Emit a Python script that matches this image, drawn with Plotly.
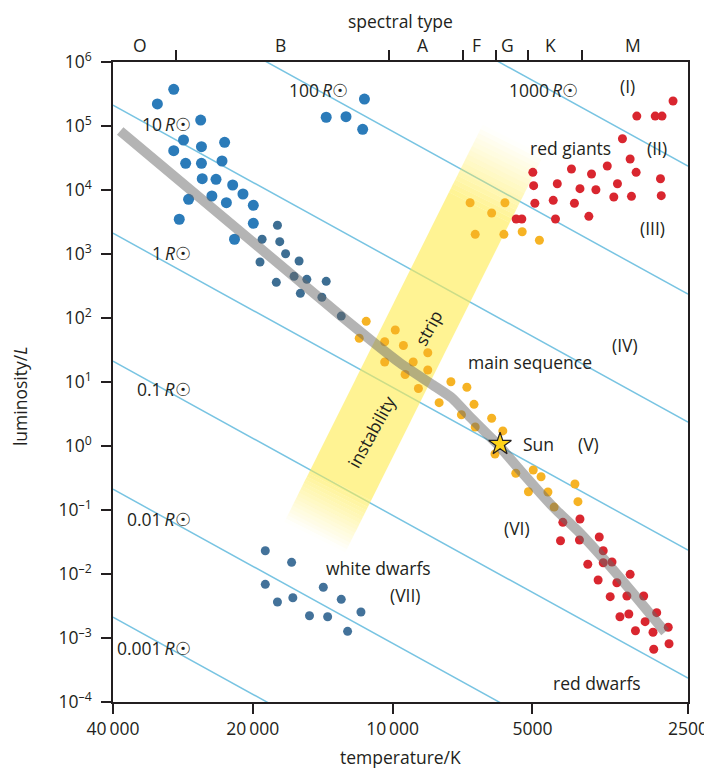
import numpy as np
import plotly.graph_objects as go

# ---------------- axis ranges ----------------
T_MAX, T_MIN = 40000, 2312          # temperature range shown (K), reversed axis
LOG_L_MIN, LOG_L_MAX = -4, 6        # luminosity range (log10 L/Lsun)
T_SUN = 5900                        # reference temperature for constant-radius lines

# ---------------- tick labels ----------------
x_tick_vals = [40000, 20000, 10000, 5000, 2312]
x_tick_text = ["40\u2009000", "20\u2009000", "10\u2009000", "5000", "2500"]
y_tick_exp = list(range(-4, 7))
y_tick_text = ["10<sup>" + (("\u2013" + str(-e)) if e < 0 else str(e)) + "</sup>" for e in y_tick_exp]

spectral_bounds = [29200, 10200, 7070, 6000, 5120, 3920]
spectral_letters = ["O", "B", "A", "F", "G", "K", "M"]
spectral_label_T = [35000, 17400, 8600, 6590, 5650, 4570, 3040]

# ---------------- star data (T in K, L in Lsun) ----------------
ob_T = [29600, 32100, 25900, 28200, 29600, 25800, 23000, 27900, 25800, 23300, 25700,
        24000, 22100, 24500, 22800, 21000, 19950, 27500, 28800, 19950, 21900]
ob_L = [374000, 221000, 124000, 60400, 41100, 47500, 55600, 26100, 26100, 28400, 15000,
        14700, 11970, 8060, 6330, 8660, 5770, 7160, 3490, 3020, 1700]

bsg_T = [13900, 12600, 11500, 11600]
bsg_L = [137000, 140000, 264000, 88600]

lateb_T = [17700, 19100, 17500, 17000, 15900, 19300, 16300, 15300, 13900, 17800, 15800, 14200, 12900]
lateb_L = [2810, 1700, 1560, 1010, 777, 750, 448, 402, 374, 361, 243, 211, 107]

afgk_T = [11400, 11800, 9870, 10400, 9480, 10400, 9030, 9400, 8800, 8400, 8400, 7490, 6920, 7940,
          6680, 7110, 6120, 6640, 5790, 6020, 4980, 5430, 4790, 5100, 4630, 4050, 3990, 4490]
afgk_L = [88.6, 48.2, 64.9, 42.6, 37.2, 20.5, 20.5, 13.1, 7.91, 28.7, 15.4, 10.1, 8.27, 4.75,
          4.48, 3.08, 2.71, 1.98, 1.72, 0.75, 0.422, 0.375, 0.331, 0.193, 0.191, 0.255, 0.135, 0.111]

ygiant_T = [6810, 5730, 6120, 6640, 5760, 5260, 4830]
ygiant_L = [6330, 6330, 4370, 2030, 2030, 2230, 1640]

rgiant_T = [2490, 2980, 2720, 2630, 3200, 3080, 2990, 2650, 2640, 3060, 3340, 3280, 3450, 3730,
            3650, 3950, 4120, 4420, 4510, 4060, 3780, 4460, 4990, 4970, 4940, 5420, 5270]
rgiant_L = [246000, 143000, 143000, 143000, 63300, 30500, 18900, 15000, 8150, 7970, 7770, 12500,
            23700, 17800, 10100, 10500, 21300, 12500, 6900, 6200, 3880, 3520, 18900, 11700, 6200,
            3520, 3520]

rdwarf_T = [3950, 4300, 3590, 4350, 3960, 3520, 3520, 3370, 3800, 3080, 3610, 3290, 3400, 3130,
            2880, 3240, 3100, 2700, 2860, 3000, 2750, 2550, 2740, 2540]
rdwarf_L = [0.0724, 0.0642, 0.0379, 0.0331, 0.0340, 0.0231, 0.0150, 0.0154, 0.0142, 0.00989,
            0.00806, 0.00731, 0.00442, 0.00453, 0.00453, 0.00215, 0.00237, 0.00249, 0.00180,
            0.00130, 0.00123, 0.00147, 0.000666, 0.000814]

wd_T = [18800, 16500, 18800, 14100, 17700, 16400, 12900, 11700, 15100, 13800, 12500]
wd_L = [0.0231, 0.0152, 0.0069, 0.0062, 0.00365, 0.00426, 0.00402, 0.00255, 0.00223, 0.00215, 0.00127]

# main-sequence ridge (grey band)
ms_T = [38600, 12900, 9640, 8190, 7450, 6810, 5870, 5320, 4510, 3950, 3450, 3040, 2590]
ms_L = [83500, 107, 19.8, 8.98, 5.62, 2.84, 0.965, 0.422, 0.111, 0.0437, 0.01485, 0.00505, 0.00124]

sun_T, sun_L = 5870, 1.07

# constant-radius lines
radii = [0.001, 0.01, 0.1, 1, 10, 100, 1000]
radius_labels = ["0.001", "0.01", "0.1", "1", "10", "100", "1000"]
radius_label_T = [26900, 26900, 26900, 26900, 26900, 12350, 3950]
radius_label_logL = [-3.156, -1.141, 0.891, 3.016, 5.031, 5.5625, 5.5625]

# instability strip corners (bottom-left, bottom-right, top-right, top-left)
strip_T = [17100, 12640, 4735, 6400]
strip_L = [0.0654, 0.0219, 34980, 104400]

# ---------------- styles ----------------
INK = "#231f20"
C_OB = "#2b7bb9"
C_LATEB = "#3d6e93"
C_WD = "#43729a"
C_ORANGE = "#f6b324"
C_RED = "#d9262f"
C_RLINE = "#78c4e2"
FONT = "Open Sans"
FS = 17.5

fig = go.Figure()

# radius lines
for R in radii:
    Ts = np.array([T_MAX, T_MIN], dtype=float)
    Ls = R**2 * (Ts / T_SUN) ** 4
    fig.add_trace(go.Scatter(x=Ts, y=Ls, mode="lines",
                             line=dict(color=C_RLINE, width=1.5), hoverinfo="skip"))

# instability strip (faded ends) built from slices in log space
lt = np.log10(strip_T)
ll = np.log10(strip_L)
bl = np.array([lt[0], ll[0]]); br = np.array([lt[1], ll[1]])
tr = np.array([lt[2], ll[2]]); tl = np.array([lt[3], ll[3]])
FADE_B, FADE_T, AMAX = 0.13, 0.17, 0.62
STRIP_RGB = (255, 236, 80)


def strip_poly(s0, s1):
    l0 = bl + (tl - bl) * s0
    r0 = br + (tr - br) * s0
    l1 = bl + (tl - bl) * s1
    r1 = br + (tr - br) * s1
    pts = np.array([l0, r0, r1, l1, l0])
    return 10 ** pts[:, 0], 10 ** pts[:, 1]


def add_strip_piece(s0, s1, a):
    xs, ys = strip_poly(s0, s1)
    fig.add_trace(go.Scatter(x=xs, y=ys, mode="lines", fill="toself",
                             line=dict(width=0, color="rgba(0,0,0,0)"),
                             fillcolor="rgba(%d,%d,%d,%.3f)" % (*STRIP_RGB, a),
                             hoverinfo="skip"))


NSL = 16
for i in range(NSL):
    s0 = FADE_B * i / NSL
    s1 = FADE_B * (i + 1) / NSL
    add_strip_piece(s0, s1, AMAX * (i + 0.5) / NSL)
add_strip_piece(FADE_B, 1 - FADE_T, AMAX)
for i in range(NSL):
    s0 = 1 - FADE_T + FADE_T * i / NSL
    s1 = 1 - FADE_T + FADE_T * (i + 1) / NSL
    add_strip_piece(s0, s1, AMAX * (1 - (i + 0.5) / NSL))


def dots(T, L, color, size):
    fig.add_trace(go.Scatter(x=T, y=L, mode="markers",
                             marker=dict(color=color, size=size, line=dict(width=0)),
                             hoverinfo="skip"))


dots(ob_T, ob_L, C_OB, 11)
dots(bsg_T, bsg_L, C_OB, 11)
dots(lateb_T, lateb_L, C_LATEB, 9)
dots(wd_T, wd_L, C_WD, 9)
dots(afgk_T, afgk_L, C_ORANGE, 9)
dots(ygiant_T, ygiant_L, C_ORANGE, 9)
dots(rgiant_T, rgiant_L, C_RED, 9)
dots(rdwarf_T, rdwarf_L, C_RED, 9)

# grey main-sequence band
fig.add_trace(go.Scatter(x=ms_T, y=ms_L, mode="lines",
                         line=dict(color="rgba(105,105,105,0.5)", width=10, shape="spline", smoothing=0.5),
                         hoverinfo="skip"))

# Sun
fig.add_trace(go.Scatter(x=[sun_T], y=[sun_L], mode="markers",
                         marker=dict(symbol="star", size=17, color="#ffd319",
                                     line=dict(color=INK, width=1.2)),
                         hoverinfo="skip"))

# dummy trace for top axis
fig.add_trace(go.Scatter(x=[10000], y=[1], xaxis="x2", mode="markers",
                         marker=dict(opacity=0), hoverinfo="skip"))

ann = []


def text(T, logL, s, xanchor="center", angle=0, size=FS):
    ann.append(dict(x=np.log10(T), y=logL, xref="x", yref="y", text=s, showarrow=False,
                    xanchor=xanchor, yanchor="middle", textangle=angle,
                    font=dict(family=FONT, size=size, color=INK)))


for lab, T, lL in zip(radius_labels, radius_label_T, radius_label_logL):
    text(T, lL, lab + "\u2009<i>R</i>\u2609", xanchor="right")

text(3128, 5.625, "(I)")
text(2700, 4.656, "(II)")
text(2763, 3.406, "(III)")
text(3159, 1.578, "(IV)")
text(3795, 0.031, "(V)")
text(5397, -1.281, "(VI)")
text(9400, -2.328, "(VII)")
text(4130, 4.656, "red giants")
text(5060, 1.3125, "main sequence")
text(5291, 0.031, "Sun", xanchor="left")
text(10750, -1.906, "white dwarfs")
text(3630, -3.703, "red dwarfs")
text(11130, 0.219, "instability", angle=-61)
text(8390, 1.844, "strip", angle=-61)

for L_, T in zip(spectral_letters, spectral_label_T):
    ann.append(dict(x=np.log10(T), y=1, xref="x", yref="paper", text=L_, showarrow=False,
                    xanchor="center", yanchor="middle", yshift=17,
                    font=dict(family=FONT, size=FS, color=INK)))

ann.append(dict(x=0.5, y=1, xref="paper", yref="paper", text="spectral type", showarrow=False,
                xanchor="center", yanchor="middle", yshift=41, borderpad=0,
                font=dict(family=FONT, size=FS, color=INK)))
ann.append(dict(x=0.5, y=0, xref="paper", yref="paper", text="temperature/K", showarrow=False,
                xanchor="center", yanchor="middle", yshift=-55,
                font=dict(family=FONT, size=FS, color=INK)))
ann.append(dict(x=0, y=0.478, xref="paper", yref="paper", text="luminosity/<i>L</i>", showarrow=False,
                xanchor="center", yanchor="middle", xshift=-93, textangle=-90,
                font=dict(family=FONT, size=FS, color=INK)))

axis_common = dict(showgrid=False, zeroline=False, showline=True, linecolor=INK, linewidth=1.5,
                   ticks="outside", ticklen=10, tickwidth=1.5, tickcolor=INK, automargin=False,
                   tickfont=dict(family=FONT, size=FS, color=INK))

fig.update_layout(
    width=712, height=775,
    margin=dict(l=105, r=32, t=54, b=81, autoexpand=False),
    plot_bgcolor="white", paper_bgcolor="white",
    showlegend=False,
    font=dict(family=FONT, size=FS, color=INK),
    xaxis=dict(type="log", range=[np.log10(T_MAX), np.log10(T_MIN)], autorange=False,
               tickmode="array", tickvals=x_tick_vals, ticktext=x_tick_text, **axis_common),
    xaxis2=dict(type="log", range=[np.log10(T_MAX), np.log10(T_MIN)], autorange=False,
                overlaying="x", side="top", tickmode="array", tickvals=spectral_bounds,
                ticktext=[""] * len(spectral_bounds), **axis_common),
    yaxis=dict(type="log", range=[LOG_L_MIN, LOG_L_MAX], autorange=False, mirror=True,
               tickmode="array", tickvals=[10.0 ** e for e in y_tick_exp], ticktext=y_tick_text,
               ticklabelstandoff=6, **axis_common),
    annotations=ann,
)

fig.write_html("out.html")
